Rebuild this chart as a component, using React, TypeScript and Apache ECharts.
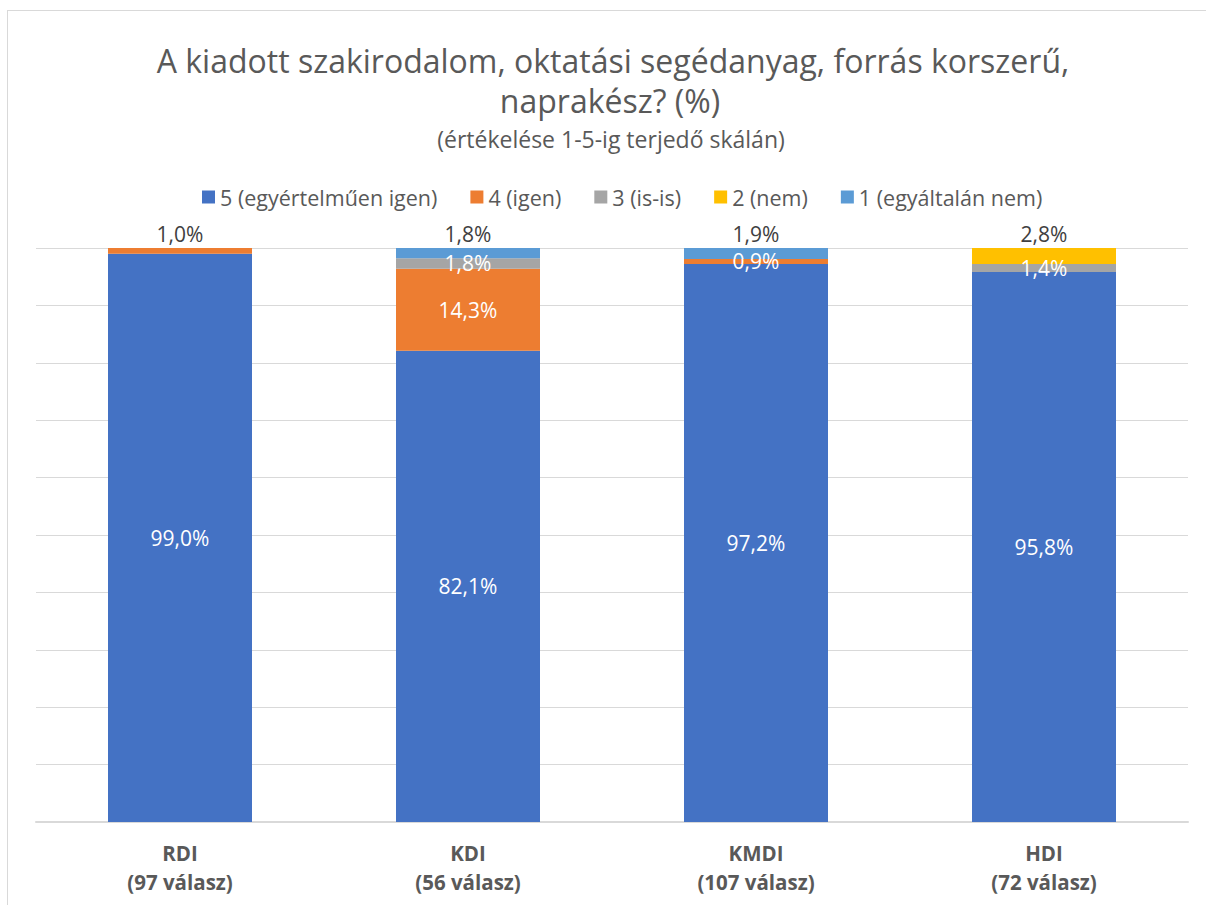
import React, { useEffect, useRef } from "react";
import * as echarts from "echarts";

const categories = ["RDI\n(97 válasz)", "KDI\n(56 válasz)", "KMDI\n(107 válasz)", "HDI\n(72 válasz)"];
const seriesNames = ["5 (egyértelműen igen)", "4 (igen)", "3 (is-is)", "2 (nem)", "1 (egyáltalán nem)"];
const s5 = [99.0, 82.1, 97.2, 95.8];
const s4 = [1.0, 14.3, 0.9, 0];
const s3 = [0, 1.8, 0, 1.4];
const s2 = [0, 0, 0, 2.8];
const s1 = [0, 1.8, 1.9, 0];
const colors = ["#4472C4", "#ED7D31", "#A5A5A5", "#FFC000", "#5B9BD5"];
const titleLines = ["A kiadott szakirodalom, oktatási segédanyag, forrás korszerű,", "naprakész? (%)"];
const subtitle = "(értékelése 1-5-ig terjedő skálán)";

const FONT = "'Open Sans', 'Noto Sans', sans-serif";

export default function App() {
  const ref = useRef<HTMLDivElement>(null);
  useEffect(() => {
    if (!ref.current) return;
    const chart = echarts.init(ref.current, undefined, { renderer: "svg" });
    const all = [s5, s4, s3, s2, s1];
    const fmt = (v: number) => v.toFixed(1).replace(".", ",") + "%";
    const series = all.map((arr, si) => ({
      name: seriesNames[si],
      type: "bar",
      stack: "total",
      barWidth: "50%",
      itemStyle: { color: colors[si] },
      data: arr.map((v, ci) => {
        let topIdx = -1;
        for (let k = all.length - 1; k >= 0; k--) {
          if (all[k][ci] > 0) { topIdx = k; break; }
        }
        const isTop = si === topIdx && si !== 0;
        return {
          value: v,
          label: v > 0
            ? {
                show: true,
                position: isTop ? "top" : "inside",
                distance: 4,
                color: isTop ? "#404040" : "#ffffff",
                fontSize: 21,
                fontFamily: FONT,
                formatter: () => fmt(v),
              }
            : { show: false },
        };
      }),
    }));
    chart.setOption({
      animation: false,
      backgroundColor: "#ffffff",
      graphic: [
        { type: "text", x: 613, y: 60, style: { text: titleLines[0], textAlign: "center", textVerticalAlign: "middle", fontSize: 32, fill: "#595959", fontFamily: FONT } },
        { type: "text", x: 610, y: 100, style: { text: titleLines[1], textAlign: "center", textVerticalAlign: "middle", fontSize: 32, fill: "#595959", fontFamily: FONT } },
        { type: "text", x: 611, y: 139, style: { text: subtitle, textAlign: "center", textVerticalAlign: "middle", fontSize: 23, fill: "#595959", fontFamily: FONT } },
      ],
      legend: {
        top: 181,
        left: 197,
        icon: "rect",
        itemWidth: 13,
        itemHeight: 13,
        itemGap: 33,
        textStyle: { fontSize: 21.5, color: "#595959", fontFamily: FONT },
        data: seriesNames,
      },
      grid: { left: 36, right: 18, top: 248, bottom: 83, containLabel: false },
      xAxis: {
        type: "category",
        data: categories,
        axisLine: { lineStyle: { color: "#d9d9d9", width: 2 } },
        axisTick: { show: false },
        axisLabel: {
          fontSize: 20.5,
          fontWeight: "bold",
          color: "#595959",
          lineHeight: 29,
          margin: 16,
          fontFamily: FONT,
        },
      },
      yAxis: {
        type: "value",
        min: 0,
        max: 100,
        interval: 10,
        axisLabel: { show: false },
        axisLine: { show: false },
        axisTick: { show: false },
        splitLine: { lineStyle: { color: "#d9d9d9", width: 1 } },
      },
      series,
    });
    return () => chart.dispose();
  }, []);
  return (
    <div style={{ position: "absolute", left: 0, top: 0, width: 1206, height: 905, overflow: "hidden", background: "#fff" }}>
      <div ref={ref} style={{ position: "absolute", left: 0, top: 0, width: 1206, height: 905 }} />
      <div style={{ position: "absolute", left: 7, top: 10, width: 1300, height: 1000, border: "1px solid #d9d9d9", pointerEvents: "none" }} />
    </div>
  );
}
